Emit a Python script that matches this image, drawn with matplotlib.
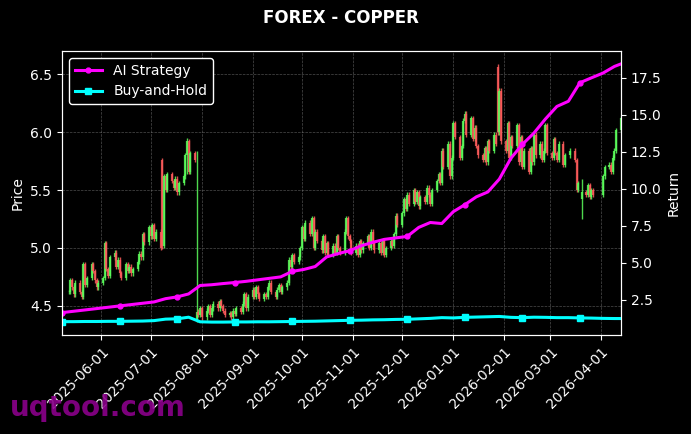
import numpy as np
import pandas as pd
import matplotlib
matplotlib.use("Agg")
import matplotlib.pyplot as plt
import matplotlib.dates as mdates

nan = np.nan

# daily closes, business days from 2025-05-08
close = [
    nan, nan,
    4.62, 4.72, 4.66, 4.60, 4.70,
    4.62, 4.58, 4.86, 4.68, 4.74,
    4.86, 4.80, 4.72, 4.66, 4.70,
    4.74, 5.04, 4.82, 4.76, 4.92,
    4.96, 4.84, 4.90, 4.78, 4.74,
    4.86, 4.80, 4.84, 4.78, 4.82,
    4.88, 4.95, 4.92, 5.12, 5.05,
    5.18, 5.10, 5.20, 5.08, 5.14,
    5.00, 5.02, 5.62, 5.50, 5.64,
    5.58, 5.52, 5.60, 5.48, 5.56,
    5.62, 5.80, 5.92, 5.66, 5.82,
    5.76, 4.45, 4.42, 4.48, 4.40,
    4.46, 4.50, 4.42, 4.48, 4.52,
    4.48, 4.54, 4.50, 4.46, 4.42,
    4.44, 4.40, 4.46, 4.43, 4.48,
    4.45, 4.52, 4.60, 4.48, 4.58,
    4.64, 4.58, 4.66, 4.60, 4.56,
    4.60, 4.58, 4.66, 4.70, 4.62,
    4.58, 4.64, 4.68, 4.62, 4.66,
    4.70, 4.90, 4.84, 4.94, 4.88,
    4.92, 5.00, 5.18, 5.08, 5.22,
    5.12, 5.26, 5.00, 5.14, 5.06,
    4.98, 5.10, 4.96, 5.04, 4.94,
    5.02, 4.96, 5.10, 5.00, 4.96,
    5.14, 5.26, 5.10, 5.06, 4.96,
    5.02, 4.94, 5.06, 4.98, 5.04,
    5.10, 5.00, 5.14, 5.04, 4.98,
    5.04, 4.96, 5.06, 4.94, 5.00,
    5.06, 5.02, 5.12, 5.28, 5.20,
    5.30, 5.42, 5.34, 5.46, 5.38,
    5.50, 5.40, 5.48, 5.36, 5.44,
    5.40, 5.52, 5.46, 5.38, 5.50,
    5.58, 5.64, 5.56, 5.84, 5.70,
    5.90, 5.62, 5.78, 6.08, 5.96,
    5.78, 5.88, 6.10, 6.16, 5.98,
    6.12, 5.94, 6.04, 5.88, 5.80,
    5.76, 5.86, 5.74, 5.92, 5.84,
    5.98, 5.90, 6.00, 6.36, 5.92,
    5.84, 6.08, 5.78, 5.96, 5.88,
    6.06, 5.74, 5.96, 5.70, 5.84,
    5.66, 5.86, 5.74, 5.98, 5.80,
    5.90, 5.76, 5.84, 6.06, 5.82,
    5.78, 5.94, 5.82, 5.76, 5.90,
    5.72, 5.80, nan, nan, 5.84,
    5.76, 5.50, 5.56, nan, 5.48,
    5.46, 5.54, 5.44, 5.50, 5.46,
    nan, nan, nan, 5.62, 5.70,
    5.72, 5.66, 5.78, 5.84, 6.02,
    6.12,
]
# days whose open / high / low differ from the plain pattern
open_fix = {43: 5.76, 58: 4.38, 189: 6.56, 226: 5.42}
spikes = {43: (5.78, 4.99), 58: (5.84, 4.36), 189: (6.59, 5.98),
          226: (5.60, 5.25), 54: (5.95, 5.64)}

# weekly strategy values (every 5th business day + last day)
ai_strategy = [1.64, 1.73, 1.82, 1.91, 2.00, 2.09, 2.18, 2.27, 2.36, 2.58,
               2.70, 2.90, 3.47, 3.52, 3.60, 3.67, 3.75, 3.85, 3.95, 4.05,
               4.42, 4.55, 4.75, 5.40, 5.62, 5.82, 6.15, 6.38, 6.58, 6.68,
               6.78, 7.39, 7.72, 7.65, 8.45, 8.92, 9.45, 9.78, 10.65, 12.05,
               12.99, 13.75, 14.70, 15.55, 15.90, 17.15, 17.48, 17.80, 18.25, 18.42]
buy_hold = [1.03, 1.03, 1.04, 1.04, 1.05, 1.05, 1.06, 1.07, 1.10, 1.20,
            1.22, 1.33, 1.02, 1.00, 1.00, 1.01, 1.01, 1.02, 1.02, 1.03,
            1.04, 1.05, 1.06, 1.08, 1.10, 1.12, 1.13, 1.15, 1.16, 1.18,
            1.19, 1.22, 1.25, 1.30, 1.28, 1.32, 1.34, 1.36, 1.38, 1.32,
            1.30, 1.33, 1.32, 1.30, 1.30, 1.28, 1.27, 1.25, 1.24, 1.24]

dates = pd.bdate_range("2025-05-08", periods=len(close))
df = pd.DataFrame({"close": close}, index=dates)
df["open"] = df["close"].ffill().shift(1)
for i, v in open_fix.items():
    df.iloc[i, df.columns.get_loc("open")] = v
df["open"] = df["open"].fillna(df["close"])
df["high"] = df[["open", "close"]].max(axis=1) + 0.02
df["low"] = df[["open", "close"]].min(axis=1) - 0.02
for i, (h, l) in spikes.items():
    df.iloc[i, df.columns.get_loc("high")] = h
    df.iloc[i, df.columns.get_loc("low")] = l
df = df.dropna()

line_idx = list(range(0, len(dates), 5)) + [len(dates) - 1]
line_dates = dates[line_idx]

fig = plt.figure(figsize=(6.91, 4.34), dpi=100, facecolor="black")
ax = fig.add_axes([62 / 691, 99 / 434, 559 / 691, 284 / 434])
ax.set_facecolor("black")

up = df["close"] >= df["open"]
cols = np.where(up, "#5cff5c", "#ff5c5c")
ax.vlines(df.index, df["low"], df["high"], colors=cols, lw=1.0, alpha=0.85)
ax.vlines(df.index, df["open"], df["close"], colors=cols, lw=1.6, alpha=0.85)

ax2 = ax.twinx()
l1, = ax2.plot(line_dates, ai_strategy, color="#ff00ff", lw=2.2, marker="o",
               ms=3.5, markevery=5, label="AI Strategy")
l2, = ax2.plot(line_dates, buy_hold, color="#00ffff", lw=2.2, marker="s",
               ms=4, markevery=5, label="Buy-and-Hold")

ax.set_xlim(dates[0], dates[-1])
ax.xaxis.set_major_locator(mdates.MonthLocator())
ax.xaxis.set_major_formatter(mdates.DateFormatter("%Y-%m-%d"))
for lab in ax.get_xticklabels():
    lab.set_rotation(45)
    lab.set_ha("right")
    lab.set_rotation_mode("anchor")

ax.grid(True, color="gray", ls="--", lw=0.5, alpha=0.6)
for a in (ax, ax2):
    a.tick_params(colors="white", labelsize=10)
    for s in a.spines.values():
        s.set_color("white")
ax.set_ylabel("Price", color="white", fontsize=10)
ax2.set_ylabel("Return", color="white", fontsize=10)

leg = ax2.legend(handles=[l1, l2], loc="upper left", facecolor="black",
                 edgecolor="white", fontsize=10, framealpha=1)
for t in leg.get_texts():
    t.set_color("white")

fig.text(341 / 691, 1 - 18 / 434, "FOREX - COPPER", color="white", fontsize=12,
         fontweight="bold", ha="center", va="center")
fig.text(10 / 691, 1 - 408 / 434, "uqtool.com", color="#8b008b", fontsize=20,
         fontweight="bold", ha="left", va="center", alpha=0.9)

fig.savefig("out.png", dpi=100, facecolor="black")
